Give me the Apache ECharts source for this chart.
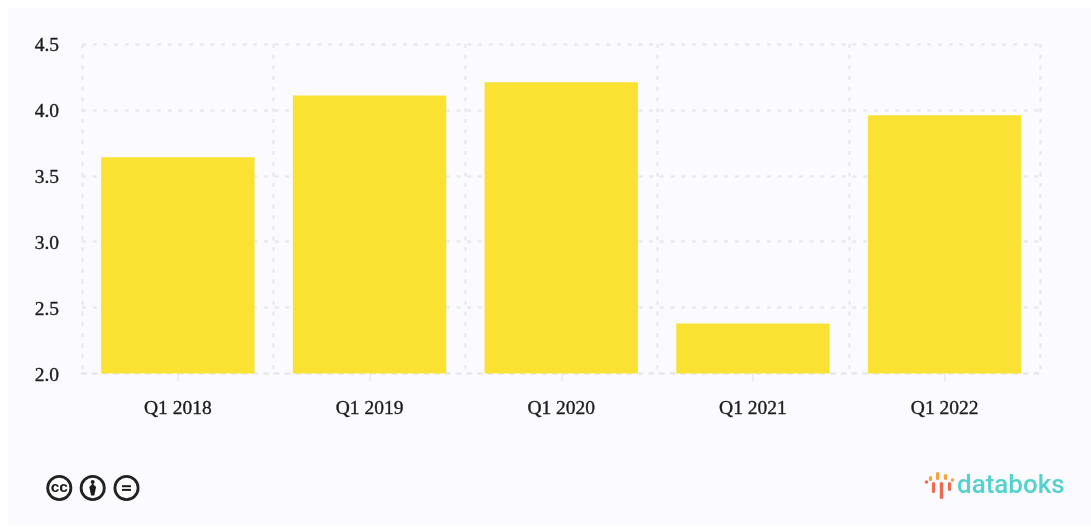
<!DOCTYPE html>
<html>
<head>
<meta charset="utf-8">
<style>
  html, body { margin: 0; padding: 0; background: #ffffff; }
  #chart { width: 1091px; height: 527px; filter: blur(0.55px); }
</style>
<script src="https://cdn.jsdelivr.net/npm/echarts@6/dist/echarts.min.js"></script>
</head>
<body>
<div id="chart"></div>
<script>
const categories = ['Q1 2018', 'Q1 2019', 'Q1 2020', 'Q1 2021', 'Q1 2022'];
const values = [3.64, 4.11, 4.21, 2.38, 3.96];
const yTicks = { min: 2, max: 4.5, interval: 0.5 };

const gridColor = '#e9e9f2';
const serif = '"Liberation Serif", serif';
const gridDash = [4, 6.7];
const labelStyle = {
  color: '#1c1c1c', fontFamily: serif, fontSize: 19.5,
  textBorderColor: '#1c1c1c', textBorderWidth: 0.35
};

// Creative Commons badges, bottom left
function badge(cx, cy, children) {
  return {
    type: 'group', x: cx, y: cy, silent: true,
    children: [
      { type: 'circle', shape: { cx: 0, cy: 0, r: 11.6 }, style: { fill: '#ffffff', stroke: '#222222', lineWidth: 2.8 } },
      ...children
    ]
  };
}
const ink = { fill: '#1c1c1c' };
const badges = [
  badge(59.3, 488, [
    { type: 'text', style: { text: 'cc', x: 0, y: -0.5, align: 'center', verticalAlign: 'middle', fill: '#1c1c1c', font: 'bold 15.5px "Liberation Sans", sans-serif' } }
  ]),
  badge(92.7, 488, [
    { type: 'circle', shape: { cx: 0, cy: -6, r: 2 }, style: ink },
    { type: 'polygon', shape: { points: [[0, -4.5], [3.4, -1], [1.6, 7.5], [-1.6, 7.5], [-3.4, -1]] }, style: ink }
  ]),
  badge(126.5, 488, [
    { type: 'rect', shape: { x: -4.5, y: -2.8, width: 9, height: 2 }, style: ink },
    { type: 'rect', shape: { x: -4.5, y: 0.9, width: 9, height: 2 }, style: ink }
  ])
];

// Brand mark: three long red stems with a row of orange ticks above them
const orange = '#f3a53c', red = '#ee6a50';
const logoMark = {
  type: 'group', x: 941.5, y: 485, silent: true,
  children: [
    { type: 'circle', shape: { cx: -15, cy: -3, r: 1.8 }, style: { fill: red } },
    { type: 'rect', shape: { x: -12.6, y: -9, width: 3.2, height: 5, r: 1.6 }, style: { fill: orange } },
    { type: 'rect', shape: { x: -9.6, y: -3, width: 3.2, height: 11, r: 1.6 }, style: { fill: red } },
    { type: 'rect', shape: { x: -5.6, y: -13, width: 3.4, height: 8, r: 1.6 }, style: { fill: orange } },
    { type: 'rect', shape: { x: -1.7, y: -3, width: 3.4, height: 17, r: 1.6 }, style: { fill: red } },
    { type: 'rect', shape: { x: 2.4, y: -11, width: 3.2, height: 6, r: 1.6 }, style: { fill: orange } },
    { type: 'rect', shape: { x: 6.4, y: -3, width: 3.2, height: 9, r: 1.6 }, style: { fill: red } },
    { type: 'circle', shape: { cx: 11, cy: -5, r: 1.8 }, style: { fill: orange } }
  ]
};

const chart = echarts.init(document.getElementById('chart'), null, { renderer: 'canvas' });
chart.setOption({
  animation: false,
  backgroundColor: '#ffffff',
  grid: { left: 82, right: 50.5, top: 44, bottom: 153.5, containLabel: false },
  xAxis: {
    type: 'category',
    data: categories,
    axisLine: { show: true, lineStyle: { color: gridColor, width: 2.5, type: gridDash } },
    axisTick: { show: true, alignWithLabel: true, length: 8, lineStyle: { color: gridColor, width: 1.5 } },
    axisLabel: { ...labelStyle, margin: 25 },
    splitLine: { show: true, lineStyle: { color: gridColor, width: 2.5, type: gridDash } }
  },
  yAxis: {
    type: 'value',
    min: yTicks.min,
    max: yTicks.max,
    interval: yTicks.interval,
    axisLine: { show: false },
    axisTick: { show: false },
    axisLabel: {
      ...labelStyle, margin: 23,
      verticalAlign: 'top',
      lineHeight: 4,
      formatter: v => v.toFixed(1)
    },
    splitLine: { show: true, lineStyle: { color: gridColor, width: 2.5, type: gridDash } }
  },
  series: [{
    type: 'bar',
    data: values,
    barCategoryGap: '20%',
    itemStyle: { color: '#fae232' }
  }],
  graphic: [
    { type: 'rect', z: -10, silent: true, shape: { x: 8, y: 8, width: 1083, height: 517 }, style: { fill: '#fafaff' } },
    ...badges,
    logoMark,
    { type: 'text', x: 957, y: 486, silent: true,
      style: { text: 'databoks', align: 'left', verticalAlign: 'middle', fill: '#55d2cd', font: '500 26px Roboto, sans-serif' } }
  ]
});
</script>
</body>
</html>
